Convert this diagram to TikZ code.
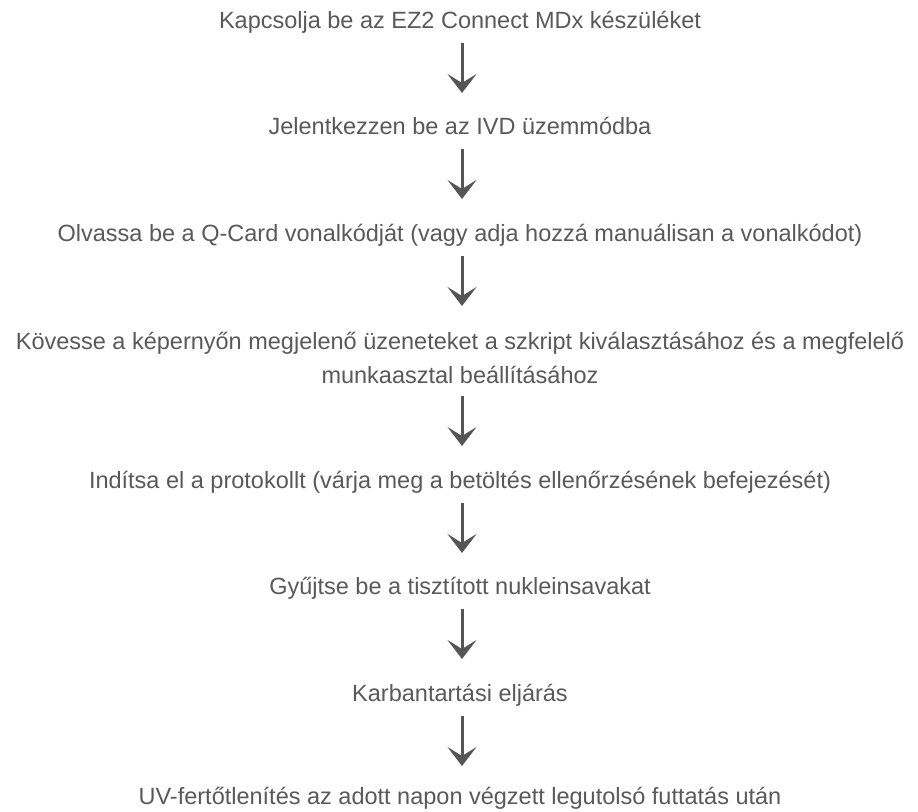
\documentclass[tikz,border=0pt]{standalone}
\usepackage{fontspec}
\setmainfont{Liberation Sans}
\usetikzlibrary{arrows.meta}
\definecolor{txtgray}{HTML}{595959}
\definecolor{arrgray}{HTML}{555555}
\begin{document}
\begin{tikzpicture}[x=1pt,y=-1pt,
  steptext/.style={inner sep=0pt, anchor=base, text=txtgray, align=center,
    font=\fontsize{23.5}{34}\selectfont},
  arr/.style={draw=arrgray, line width=3pt,
    -{Stealth[length=19pt, width=29pt, inset=9pt]}}]
\useasboundingbox (0,0) rectangle (918,811);
\node[steptext] (n1) at (460,28) {Kapcsolja be az EZ2 Connect MDx készüléket};
\node[steptext] (n2) at (460,134) {Jelentkezzen be az IVD üzemmódba};
\node[steptext] (n3) at (460,241) {Olvassa be a Q-Card vonalkódját (vagy adja hozzá manuálisan a vonalkódot)};
\node[steptext] (n4) at (460,383) {Kövesse a képernyőn megjelenő üzeneteket a szkript kiválasztásához és a megfelelő\\munkaasztal beállításához};
\node[steptext] (n5) at (460,488) {Indítsa el a protokollt (várja meg a betöltés ellenőrzésének befejezését)};
\node[steptext] (n6) at (460,594) {Gyűjtse be a tisztított nukleinsavakat};
\node[steptext] (n7) at (460,701) {Karbantartási eljárás};
\node[steptext] (n8) at (460,804) {UV-fertőtlenítés az adott napon végzett legutolsó futtatás után};
\draw[arr] ([xshift=2pt,yshift=-15pt]n1.base) -- ([xshift=2pt,yshift=41pt]n2.base);
\draw[arr] ([xshift=2pt,yshift=-15pt]n2.base) -- ([xshift=2pt,yshift=42pt]n3.base);
\draw[arr] ([xshift=2pt,yshift=-15pt]n3.base) -- ([xshift=2pt,yshift=77pt]n4.base);
\draw[arr] ([xshift=2pt,yshift=-13pt]n4.base) -- ([xshift=2pt,yshift=42pt]n5.base);
\draw[arr] ([xshift=2pt,yshift=-15pt]n5.base) -- ([xshift=2pt,yshift=41pt]n6.base);
\draw[arr] ([xshift=2pt,yshift=-15pt]n6.base) -- ([xshift=2pt,yshift=42pt]n7.base);
\draw[arr] ([xshift=2pt,yshift=-15pt]n7.base) -- ([xshift=2pt,yshift=38pt]n8.base);
\end{tikzpicture}
\end{document}
